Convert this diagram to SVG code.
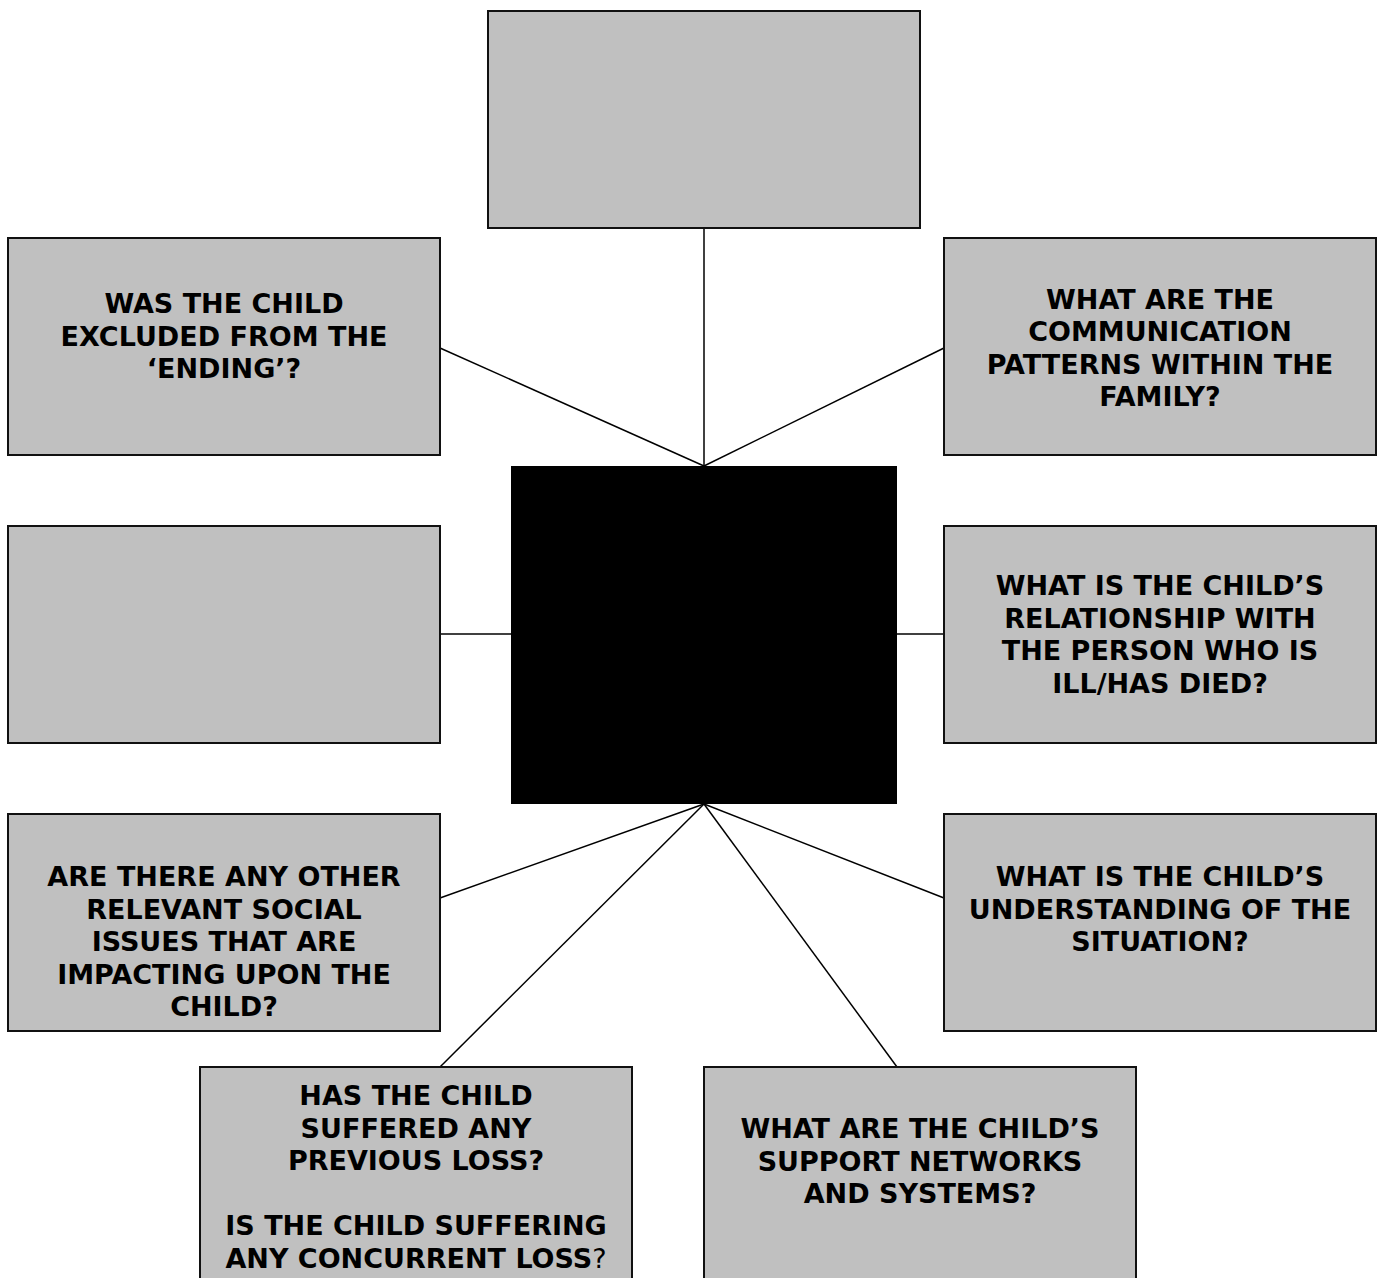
<svg xmlns="http://www.w3.org/2000/svg" width="1381" height="1278" viewBox="0 0 1381 1278">
<style>
.box{fill:#c0c0c0;stroke:#111;stroke-width:2}
.core{fill:#000}
.con line{stroke:#000;stroke-width:1.5}
text{font-family:"DejaVu Sans","Verdana",sans-serif;font-weight:bold;font-size:27px;fill:#000;text-anchor:middle}
.n{font-weight:normal}
</style>
<rect width="1381" height="1278" fill="#fff"/>
<g class="con" id="connectors">
<line x1="704" y1="228" x2="704" y2="466"/>
<line x1="440" y1="348" x2="704" y2="466"/>
<line x1="944" y1="348" x2="704" y2="466"/>
<line x1="440" y1="634" x2="511" y2="634"/>
<line x1="897" y1="634" x2="944" y2="634"/>
<line x1="440" y1="898" x2="704" y2="804"/>
<line x1="944" y1="898" x2="704" y2="804"/>
<line x1="440" y1="1067" x2="704" y2="804"/>
<line x1="897" y1="1067" x2="704" y2="804"/>
</g>
<g id="top"><rect class="box" x="488" y="11" width="432" height="217"/></g>
<g id="center"><rect class="core" x="511" y="466" width="386" height="338"/></g>
<g id="excluded">
<rect class="box" x="8" y="238" width="432" height="217"/>
<text x="224" y="313">WAS THE CHILD</text>
<text x="224" y="345.5">EXCLUDED FROM THE</text>
<text x="224" y="378">‘ENDING’?</text>
</g>
<g id="communication">
<rect class="box" x="944" y="238" width="432" height="217"/>
<text x="1160" y="308.5">WHAT ARE THE</text>
<text x="1160" y="341">COMMUNICATION</text>
<text x="1160" y="373.5">PATTERNS WITHIN THE</text>
<text x="1160" y="406">FAMILY?</text>
</g>
<g id="blank-left"><rect class="box" x="8" y="526" width="432" height="217"/></g>
<g id="relationship">
<rect class="box" x="944" y="526" width="432" height="217"/>
<text x="1160" y="595">WHAT IS THE CHILD’S</text>
<text x="1160" y="627.5">RELATIONSHIP WITH</text>
<text x="1160" y="660">THE PERSON WHO IS</text>
<text x="1160" y="692.5">ILL/HAS DIED?</text>
</g>
<g id="social">
<rect class="box" x="8" y="814" width="432" height="217"/>
<text x="224" y="886">ARE THERE ANY OTHER</text>
<text x="224" y="918.5">RELEVANT SOCIAL</text>
<text x="224" y="951">ISSUES THAT ARE</text>
<text x="224" y="983.5">IMPACTING UPON THE</text>
<text x="224" y="1016">CHILD?</text>
</g>
<g id="understanding">
<rect class="box" x="944" y="814" width="432" height="217"/>
<text x="1160" y="886">WHAT IS THE CHILD’S</text>
<text x="1160" y="918.5">UNDERSTANDING OF THE</text>
<text x="1160" y="951">SITUATION?</text>
</g>
<g id="loss">
<rect class="box" x="200" y="1067" width="432" height="240"/>
<text x="416" y="1105">HAS THE CHILD</text>
<text x="416" y="1137.5">SUFFERED ANY</text>
<text x="416" y="1170">PREVIOUS LOSS?</text>
<text x="416" y="1235">IS THE CHILD SUFFERING</text>
<text x="416" y="1267.5">ANY CONCURRENT LOSS<tspan class="n">?</tspan></text>
</g>
<g id="support">
<rect class="box" x="704" y="1067" width="432" height="240"/>
<text x="920" y="1138">WHAT ARE THE CHILD’S</text>
<text x="920" y="1170.5">SUPPORT NETWORKS</text>
<text x="920" y="1203">AND SYSTEMS?</text>
</g>
</svg>
